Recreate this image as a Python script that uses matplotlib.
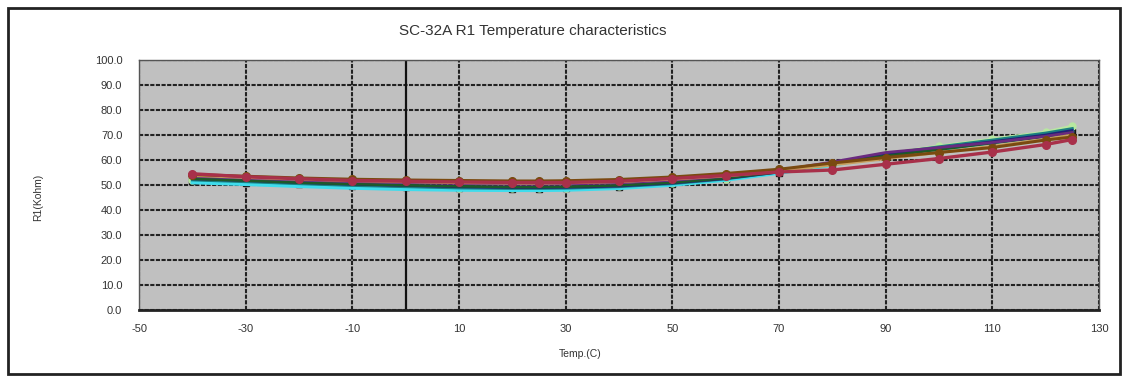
import matplotlib
matplotlib.use("Agg")
import matplotlib.pyplot as plt
from matplotlib.patches import Rectangle

plt.rcParams['font.family'] = ['Liberation Sans', 'DejaVu Sans']

title = "SC-32A R1 Temperature characteristics"
xlabel = "Temp.(C)"
ylabel = "R1(Kohm)"

temps = [-40, -30, -20, -10, 0, 10, 20, 25, 30, 40, 50, 60, 70, 80, 90, 100, 110, 120, 125]

s_navy   = [52.5, 51.8, 51.0, 50.3, 49.8, 49.3, 49.0, 49.0, 49.1, 49.6, 50.8, 52.6, 55.2, 58.6, 62.0, 64.8, 67.3, 70.0, 71.8]
s_teal   = [52.0, 51.3, 50.5, 49.8, 49.3, 48.8, 48.6, 48.6, 48.7, 49.3, 50.5, 52.4, 55.2, 58.8, 62.4, 65.3, 68.0, 70.8, 72.6]
s_lgreen = [52.2, 51.5, 50.7, 50.0, 49.5, 49.0, 48.8, 48.8, 48.9, 49.5, 50.7, 52.6, 55.5, 59.0, 62.6, 65.6, 68.4, 71.2, 73.6]
s_cyan   = [51.0, 50.3, 49.5, 48.8, 48.3, 48.0, 47.9, 47.9, 48.0, 48.7, 50.0, 52.0, 54.8, 58.0, 61.5, 64.3, 67.0, 69.8, 71.6]
s_black  = [51.8, 51.0, 50.3, 49.6, 49.2, 48.8, 48.6, 48.6, 48.7, 49.3, 50.5, 52.3, 55.0, 58.3, 61.6, 64.0, 67.2, 69.6, 71.2]
s_green  = [52.5, 51.8, 51.0, 50.4, 49.9, 49.5, 49.2, 49.2, 49.3, 49.9, 51.0, 52.8, 55.3, 58.5, 61.6, 64.2, 66.8, 69.4, 71.0]
s_purple = [53.5, 52.8, 52.0, 51.4, 51.0, 50.6, 50.3, 50.3, 50.4, 50.9, 51.9, 53.5, 55.8, 59.2, 63.0, 65.0, 67.0, 69.5, 71.0]
s_tan    = [53.8, 53.0, 52.3, 51.7, 51.3, 50.9, 50.7, 50.7, 50.8, 51.3, 52.3, 53.6, 55.5, 58.0, 60.5, 63.0, 65.5, 68.3, 70.0]
s_brown  = [54.2, 53.5, 52.8, 52.3, 52.0, 51.8, 51.6, 51.6, 51.7, 52.2, 53.2, 54.6, 56.3, 58.8, 61.0, 63.0, 65.0, 68.0, 69.2]
s_crim   = [54.5, 53.3, 52.5, 51.8, 51.5, 51.2, 51.0, 51.0, 51.0, 51.5, 52.6, 53.8, 55.2, 56.0, 58.3, 60.6, 63.2, 66.2, 68.2]

x_ticks = [-50, -30, -10, 10, 30, 50, 70, 90, 110, 130]
y_ticks = [0, 10, 20, 30, 40, 50, 60, 70, 80, 90, 100]

series = [
    (s_black,  '#151515', 's', 2.0, 4.5),
    (s_lgreen, '#b8e8a0', 'o', 2.0, 5),
    (s_cyan,   '#3fdcec', None, 2.6, 0),
    (s_teal,   '#1a8080', None, 2.0, 0),
    (s_navy,   '#20207a', None, 2.0, 0),
    (s_green,  '#1e5a2a', None, 2.0, 0),
    (s_purple, '#6a2a80', None, 2.0, 0),
    (s_tan,    '#c8a060', None, 2.0, 0),
    (s_brown,  '#7a4a10', 'o', 2.2, 5.5),
    (s_crim,   '#a8304a', 'o', 2.4, 5.5),
]

fig = plt.figure(figsize=(11.28, 3.76), dpi=100)
fig.patch.set_facecolor('white')
ax = fig.add_axes([139/1128, 1-310/376, 960/1128, 250/376])
ax.set_facecolor('#c0c0c0')

ax.set_xlim(-50, 130)
ax.set_ylim(0, 100)
ax.set_xticks(x_ticks)
ax.set_yticks(y_ticks)
ax.set_xticklabels([str(t) for t in x_ticks])
ax.set_yticklabels([f"{t:.1f}" for t in y_ticks])
ax.tick_params(axis='both', length=0, labelsize=8, colors='#333333')
ax.tick_params(axis='y', pad=12)
ax.tick_params(axis='x', pad=10)

ax.grid(True, color='#222222', linestyle=(0, (2, 0.7)), linewidth=1.5, zorder=1)
ax.set_axisbelow(True)
ax.axvline(0, color='#111111', linewidth=1.6, zorder=1.5)

for side in ['left', 'right', 'top']:
    ax.spines[side].set_color('#555555')
    ax.spines[side].set_linewidth(1.0)
ax.spines['bottom'].set_color('#222222')
ax.spines['bottom'].set_linewidth(2.0)

for i, (vals, col, mk, lw, ms) in enumerate(series):
    ax.plot(temps, vals, color=col, linewidth=lw, marker=mk, markersize=ms,
            markeredgecolor=col, markerfacecolor=col, zorder=3 + i * 0.1)

fig.text(533/1128, 1-31/376, title, ha='center', va='center', fontsize=11, color='#333333')
fig.text(580/1128, 1-354/376, xlabel, ha='center', va='center', fontsize=7.5, color='#333333')
fig.text(38/1128, 1-197/376, ylabel, ha='center', va='center', rotation=90, fontsize=7.5, color='#333333')

fig.add_artist(Rectangle((8/1128, 2/376), 1112/1128, 366/376, transform=fig.transFigure,
                         fill=False, edgecolor='#222222', linewidth=2.0))

fig.savefig('out.png', dpi=100)
